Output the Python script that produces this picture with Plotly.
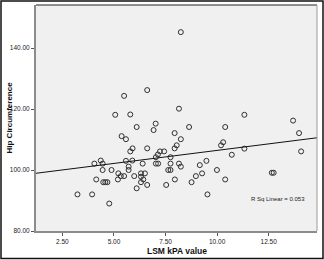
import numpy as np
import plotly.graph_objects as go

lsm_kpa = [8.24, 6.61, 5.49, 8.15, 5.06, 5.79, 11.32, 7.02, 6.10, 8.64,
           10.39, 6.92, 7.94, 13.68, 13.97, 5.37, 5.58, 8.24, 10.29, 10.19,
           8.04, 7.94, 5.90, 5.79, 6.61, 7.23, 7.43, 7.13, 7.03, 7.74,
           11.32, 10.71, 14.07, 4.36, 4.05, 4.45, 5.58, 5.89, 6.39, 7.03,
           7.14, 7.74, 8.15, 8.24, 9.16, 9.48, 5.71, 5.71, 4.45, 4.88,
           7.63, 7.74, 9.99, 5.21, 5.33, 5.49, 5.19, 5.98, 6.31, 6.50,
           6.31, 6.42, 6.31, 6.61, 6.10, 7.53, 7.95, 8.76, 8.97, 9.27,
           9.53, 4.14, 4.48, 4.58, 4.68, 3.23, 3.94, 4.77, 10.39, 12.65,
           12.74]
hip_circ = [145.2, 126.2, 124.3, 120.1, 118.1, 118.2, 118.1, 115.2, 114.1, 114.1,
            114.1, 113.1, 112.1, 116.2, 112.1, 111.1, 110.1, 110.1, 109.1, 108.1,
            108.1, 107.1, 107.1, 106.1, 107.1, 106.1, 106.1, 105.1, 104.2, 104.2,
            107.0, 105.0, 106.1, 103.1, 102.1, 102.1, 103.0, 103.1, 102.1, 102.1,
            102.1, 102.1, 102.1, 101.1, 101.6, 103.0, 101.1, 100.0, 100.0, 100.0,
            100.0, 100.0, 100.0, 98.9, 98.0, 98.0, 96.9, 98.0, 98.9, 98.9,
            97.8, 96.9, 96.0, 95.1, 94.0, 95.1, 96.9, 96.0, 98.0, 98.9,
            92.0, 96.9, 96.0, 96.0, 96.0, 92.0, 92.0, 89.0, 96.9, 99.1,
            99.1]

x_ticks = [2.5, 5.0, 7.5, 10.0, 12.5]
y_ticks = [80, 100, 120, 140]
r_sq_label = "R Sq Linear = 0.053"
x_title = "LSM kPA value"
y_title = "Hip Circumference"

x_range = [1.22, 14.84]
y_range = [80, 154.1]

slope, intercept = np.polyfit(lsm_kpa, hip_circ, 1)
fit_x = np.array(x_range)
fit_y = slope * fit_x + intercept

FONT = "Liberation Sans, Arial, sans-serif"

fig = go.Figure()
fig.add_trace(go.Scatter(
    x=lsm_kpa, y=hip_circ, mode="markers",
    marker=dict(symbol="circle-open", size=5, color="#303030", line=dict(width=1, color="#303030")),
    showlegend=False, hoverinfo="skip", cliponaxis=False))
fig.add_trace(go.Scatter(
    x=fit_x, y=fit_y, mode="lines",
    line=dict(color="#111111", width=1),
    showlegend=False, hoverinfo="skip"))

L, R, T, B = 36, 7, 5, 29
W, H = 324, 260
pw, ph = W - L - R, H - T - B

def px(xp):
    return (xp - L) / pw

def py(yp):
    return (H - B - yp) / ph

axis_common = dict(showgrid=False, zeroline=False, automargin=False,
                   showline=True, linecolor="#8C8C8C", linewidth=2,
                   ticks="outside", ticklen=3, tickcolor="#555555", tickwidth=1,
                   tickformat=".2f",
                   tickfont=dict(size=6.5, family=FONT, color="#222222"))

fig.update_layout(
    width=W, height=H,
    margin=dict(l=L, r=R, t=T, b=B, pad=0, autoexpand=False),
    paper_bgcolor="white",
    plot_bgcolor="#F0F0F0",
    font=dict(family=FONT, color="#222222"),
    xaxis=dict(range=x_range, tickvals=x_ticks, **axis_common),
    yaxis=dict(range=y_range, tickvals=y_ticks, **axis_common),
    annotations=[
        dict(text=r_sq_label, xref="paper", yref="paper",
             x=px(307), y=py(199), xanchor="right", yanchor="middle",
             showarrow=False, font=dict(size=6, family=FONT, color="#222222")),
        dict(text="<b>" + x_title + "</b>", xref="paper", yref="paper",
             x=px(177), y=py(251), xanchor="center", yanchor="middle",
             showarrow=False, font=dict(size=8.5, family=FONT, color="#111111")),
        dict(text="<b>" + y_title + "</b>", xref="paper", yref="paper",
             x=px(8.5), y=py(118), xanchor="center", yanchor="middle", textangle=-90,
             showarrow=False, font=dict(size=8, family=FONT, color="#111111")),
    ],
    shapes=[
        dict(type="line", xref="paper", yref="paper", x0=0, x1=1, y0=1, y1=1,
             line=dict(color="#222222", width=1)),
        dict(type="line", xref="paper", yref="paper", x0=1, x1=1, y0=0, y1=1,
             line=dict(color="#9A9A9A", width=1)),
        dict(type="rect", xref="paper", yref="paper",
             x0=px(1), x1=px(323), y0=py(258.5), y1=py(1),
             line=dict(color="#111111", width=1.5)),
    ],
)

fig.write_html("out.html", config={"displayModeBar": False},
               post_script="document.body.style.margin='0';document.body.style.padding='0';")
